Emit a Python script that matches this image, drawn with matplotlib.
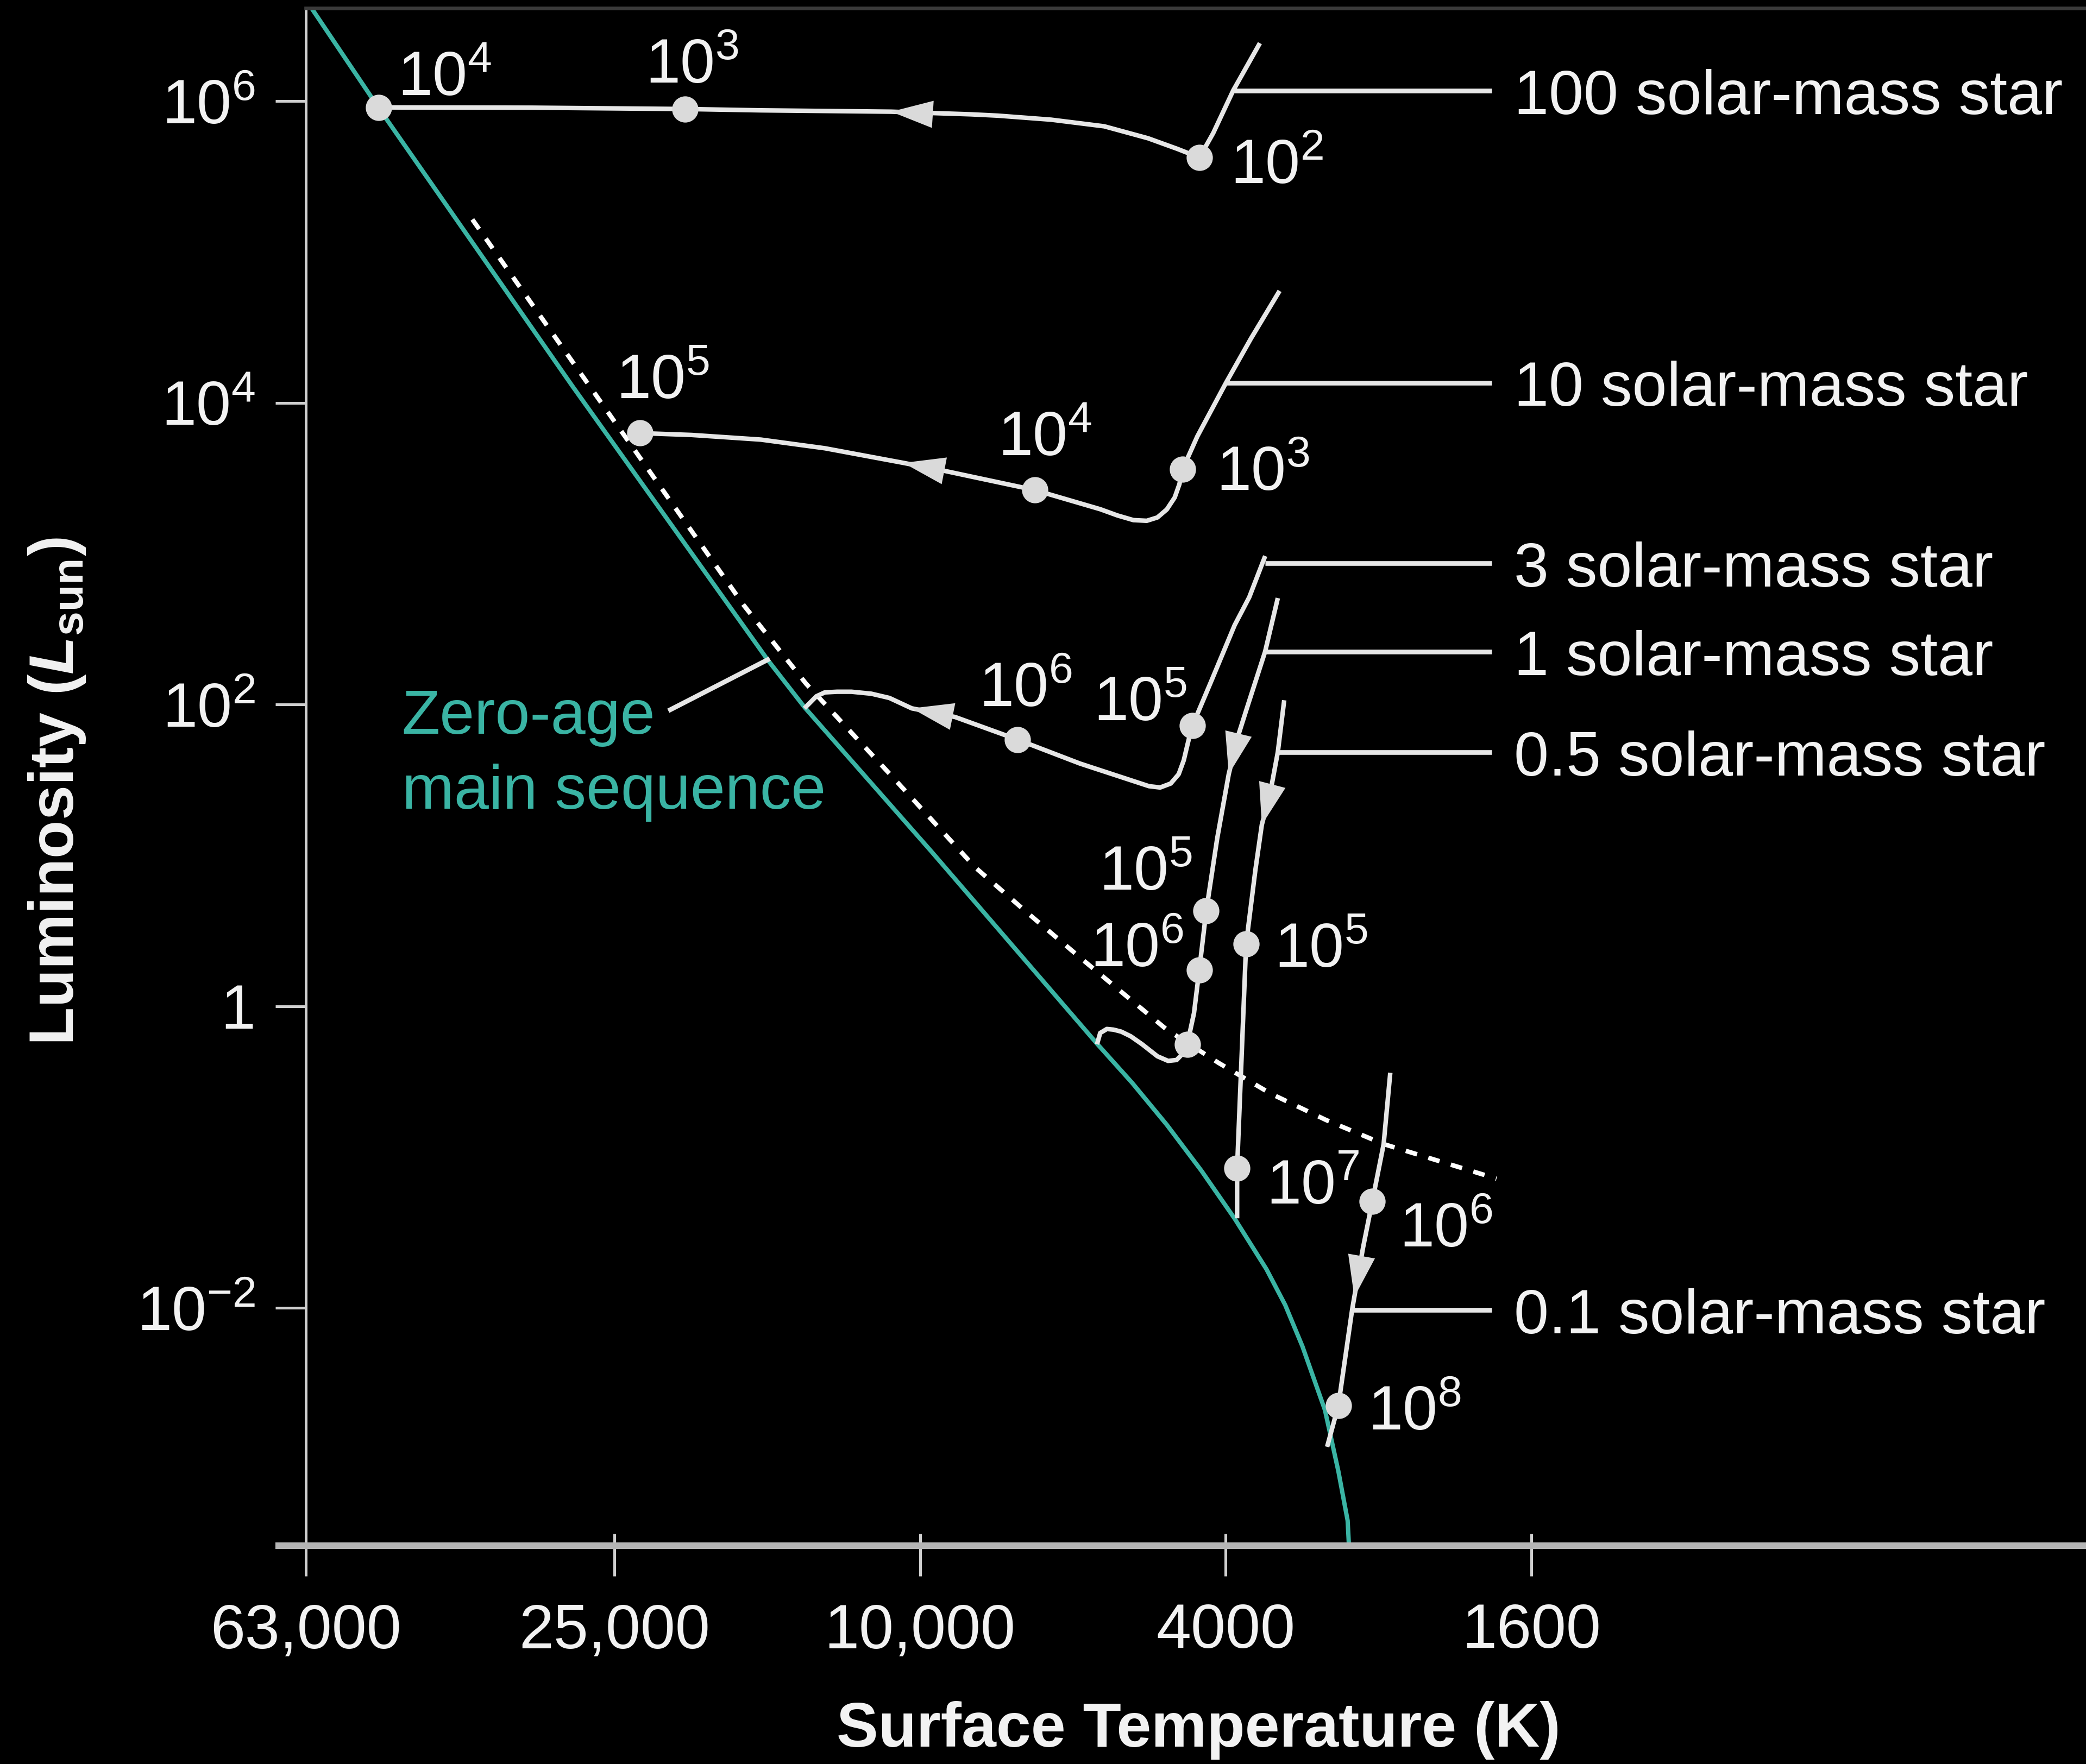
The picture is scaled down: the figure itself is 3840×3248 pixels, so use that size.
import matplotlib
matplotlib.use("Agg")
import matplotlib.pyplot as plt
from matplotlib.ticker import NullLocator, NullFormatter

plt.rcParams['font.family'] = ['Liberation Sans', 'DejaVu Sans']
plt.rcParams['mathtext.fontset'] = 'custom'
plt.rcParams['mathtext.rm'] = 'Liberation Sans'
plt.rcParams['mathtext.it'] = 'Liberation Sans:italic'
plt.rcParams['mathtext.bf'] = 'Liberation Sans:bold'
if 'mathtext.bfit' in plt.rcParams:
    plt.rcParams['mathtext.bfit'] = 'Liberation Sans:bold:italic'

# ---- axes ----
temp_ticks = [63000, 25000, 10000, 4000, 1600]
temp_labels = ['63,000', '25,000', '10,000', '4000', '1600']
lum_ticks = [1e6, 1e4, 1e2, 1, 1e-2]
lum_labels = [r'$\mathregular{10^{6}}$', r'$\mathregular{10^{4}}$',
              r'$\mathregular{10^{2}}$', '1', r'$\mathregular{10^{-2}}$']

# ---- zero-age main sequence (K, L_sun) ----
zams_T = [63000, 50690, 28370, 15790, 14120, 9667, 5873, 5294, 4772, 4302, 3894,
          3540, 3346, 3178, 2970, 2853, 2775, 2764]
zams_L = [4.68e6, 9.035e5, 1.297e4, 197.9, 95.2, 10.63, 0.5595, 0.3106, 0.1638,
          0.08128, 0.03914, 0.01809, 0.01046, 0.005572, 0.002102, 8.264e-4,
          3.898e-4, 2.651e-4]

# ---- dashed line ----
dash_T = [38260, 16960, 14070, 10900, 8475, 7253, 6183, 4772, 4085, 3497, 2958, 2491, 1776]
dash_L = [1.641e5, 454.8, 137.3, 33.81, 8.328, 4.176, 2.094, 0.6995, 0.4209, 0.2639,
          0.1758, 0.1220, 0.07196]

# ---- pre-main-sequence tracks, start -> main sequence ----
m100_T = [3610, 3910, 4151, 4327, 4622, 5047, 5757, 6752, 7919, 8578, 10900, 16110,
          20220, 31980, 50690]
m100_L = [2.419e6, 1.176e6, 6.144e5, 4.219e5, 4.815e5, 5.663e5, 6.80e5, 7.524e5,
          8.0e5, 8.162e5, 8.50e5, 8.676e5, 8.854e5, 9.035e5, 9.073e5]
m100_dot_T = [4327, 20220, 50690]
m100_dot_L = [4.219e5, 8.854e5, 9.073e5]
m100_ages = [2, 3, 4]
m100_arrow = [(9630, 8.162e5), (10900, 8.50e5)]

m10_T = [3403, 3712, 3995, 4354, 4551, 4595, 4660, 4772, 4908, 5067, 5274, 5533,
         5826, 7090, 9290, 10510, 13300, 16110, 19820, 23150]
m10_L = [5.515e4, 2.640e4, 1.359e4, 5995, 3624, 2886, 2356, 1962, 1737, 1651, 1668,
         1791, 1970, 2639, 3536, 3995, 4994, 5698, 6117, 6293]
m10_dot_T = [4551, 7090, 23150]
m10_dot_L = [3624, 2639, 6293]
m10_ages = [3, 4, 5]
m10_arrow = [(9290, 3536), (10510, 3995)]

m3_T = [3553, 3727, 3894, 4183, 4419, 4451, 4486, 4535, 4605, 4716, 4868, 5033,
        6190, 7465, 9000, 10250, 10960, 11570, 12280, 12820, 13300, 13640, 14140]
m3_L = [964.0, 513.8, 335.4, 140.1, 72.4, 63.45, 53.94, 42.7, 34.5, 29.94, 28.17,
        28.74, 40.6, 58.5, 82.6, 94.3, 110.5, 117.9, 121.5, 121.5, 120.3, 113.4, 94.3]
m3_dot_T = [4419, 7465]
m3_dot_L = [72.4, 58.5]
m3_ages = [5, 6]
m3_arrow = [(9000, 82.6), (10250, 94.3)]

m1_T = [3421, 3554, 3742, 3860, 3963, 4102, 4240, 4329, 4398, 4488, 4550, 4633,
        4753, 4908, 5138, 5316, 5470, 5598, 5711, 5826, 5882]
m1_L = [507.6, 223.9, 99.2, 60.3, 34.57, 13.02, 4.279, 1.744, 0.9016, 0.5596,
        0.4853, 0.4402, 0.4341, 0.4659, 0.5596, 0.6318, 0.6785, 0.6995, 0.7066,
        0.6649, 0.5596]
m1_dot_T = [4240, 4329, 4488]
m1_dot_L = [4.279, 1.744, 0.5596]
m1_ages = [5, 6, None]
m1_arrow = [(3860, 60.3), (3963, 34.57)]

m05_T = [3356, 3421, 3497, 3589, 3659, 3762, 3813, 3865, 3865]
m05_L = [106.7, 48.34, 26.5, 15.95, 8.0, 2.586, 0.4669, 0.08431, 0.0393]
m05_dot_T = [3762, 3865]
m05_dot_L = [2.586, 0.08431]
m05_ages = [5, 7]
m05_arrow = [(3497, 26.5), (3589, 15.95)]

m01_T = [2442, 2491, 2577, 2649, 2720, 2738, 2853, 2951]
m01_L = [0.3623, 0.1220, 0.05096, 0.02529, 0.01181, 0.00972, 0.002262, 0.001201]
m01_dot_T = [2577, 2853]
m01_dot_L = [0.05096, 0.002262]
m01_ages = [6, 8]
m01_arrow = [(2649, 0.02529), (2720, 0.01181)]

# ---- mass labels and their leader lines ----
mass_names = ['100 solar-mass star', '10 solar-mass star', '3 solar-mass star',
              '1 solar-mass star', '0.5 solar-mass star', '0.1 solar-mass star']
leader_T = [3907, 3995, 3554, 3554, 3421, 2738]
leader_L = [1.169e6, 1.359e4, 862.2, 223.9, 48.34, 0.00972]
leader_end_T = 1801

stars = [
    (m100_T, m100_L, m100_dot_T, m100_dot_L, m100_ages, m100_arrow),
    (m10_T, m10_L, m10_dot_T, m10_dot_L, m10_ages, m10_arrow),
    (m3_T, m3_L, m3_dot_T, m3_dot_L, m3_ages, m3_arrow),
    (m1_T, m1_L, m1_dot_T, m1_dot_L, m1_ages, m1_arrow),
    (m05_T, m05_L, m05_dot_T, m05_dot_L, m05_ages, m05_arrow),
    (m01_T, m01_L, m01_dot_T, m01_dot_L, m01_ages, m01_arrow),
]

# age label offsets in points (layout only)
age_offsets = [
    [(17.2, -14.3), (-22.0, 14.3), (10.7, 6.6)],
    [(18.6, -11.5), (-20.4, 19.1), (-13.2, 19.1)],
    [(-54.6, 2.9), (-21.2, 18.4)],
    [(-59.3, 11.6), (-60.2, 1.8), None],
    [(15.6, -12.8), (16.1, -19.7)],
    [(14.9, -25.3), (16.2, -13.7)],
]

TEXT = '#f2f2f2'
TRACK = '#e6e6e6'
DOT = '#dadada'
TEAL = '#3ab4a4'
FS = 34.5

fig = plt.figure(figsize=(16, 13.534), dpi=240, facecolor='black')
ax = fig.add_axes([230 / 1568, 1 - 1162 / 1326, 1 - 230 / 1568, 1156 / 1326])
ax.set_facecolor('black')
ax.set_xscale('log')
ax.set_yscale('log')
ax.set_xlim(63000, 303.4)
ax.set_ylim(2.651e-4, 4.143e6)

ax.plot(zams_T, zams_L, color=TEAL, lw=2.4, zorder=2, solid_joinstyle='round')
ax.plot(dash_T, dash_L, color='white', lw=2.5, ls=(0, (2.6, 2.6)), zorder=2)

for (tT, tL, dT, dL, ages, arrow), offs in zip(stars, age_offsets):
    ax.plot(tT, tL, color=TRACK, lw=2.5, solid_joinstyle='round',
            solid_capstyle='butt', zorder=3)
    ax.plot(dT, dL, 'o', ms=14.5, color=DOT, mec='none', zorder=5)
    ax.annotate('', xy=arrow[1], xytext=arrow[0],
                arrowprops=dict(arrowstyle='-|>,head_length=2.3,head_width=0.75',
                                mutation_scale=10, fc=DOT, ec='none', lw=0,
                                shrinkA=0, shrinkB=0), zorder=5)
    for T, L, a, off in zip(dT, dL, ages, offs):
        if a is None:
            continue
        ax.annotate(rf'$\mathregular{{10^{{{a}}}}}$', xy=(T, L), xytext=off,
                    textcoords='offset points', ha='left', va='baseline',
                    fontsize=FS, color=TEXT, zorder=6)

for name, T0, L in zip(mass_names, leader_T, leader_L):
    ax.plot([T0, leader_end_T], [L, L], color=TRACK, lw=2.6, zorder=3,
            solid_capstyle='butt')
    ax.annotate(name, xy=(leader_end_T, L), xytext=(12.2, -12.8),
                textcoords='offset points', ha='left', va='baseline',
                fontsize=FS, color=TEXT, annotation_clip=False)

# zero-age main sequence label (anchored on the baseline of its second line)
ax.plot([21130, 15790], [92.4, 197.9], color=TRACK, lw=2.6, zorder=3)
ax.text(47270, 20.35, 'Zero-age\nmain sequence', color=TEAL, fontsize=FS,
        ha='left', va='baseline', linespacing=1.38)

# spines and ticks
ax.spines['right'].set_visible(False)
ax.spines['top'].set_color('#3a3a3a')
ax.spines['top'].set_linewidth(2)
ax.spines['left'].set_color('#cfcfcf')
ax.spines['left'].set_linewidth(1.5)
ax.spines['bottom'].set_color('#b5b5b5')
ax.spines['bottom'].set_linewidth(3.6)
ax.plot([-23 / 1338, 0], [0, 0], transform=ax.transAxes, clip_on=False,
        color='#b5b5b5', lw=3.6, solid_capstyle='butt')

ax.set_xticks(temp_ticks, temp_labels)
ax.set_xticks(temp_ticks, minor=True)
ax.xaxis.remove_overlapping_locs = False
ax.xaxis.set_minor_formatter(NullFormatter())
ax.tick_params(axis='x', which='major', direction='out', length=16.9, width=1.5,
               color='#cfcfcf', pad=14.6, labelsize=FS, labelcolor=TEXT)
ax.tick_params(axis='x', which='minor', direction='in', length=6.6, width=1.5,
               color='#cfcfcf')

ax.set_yticks(lum_ticks, lum_labels)
ax.yaxis.set_minor_locator(NullLocator())
ax.tick_params(axis='y', direction='out', length=16.9, width=1.5,
               color='#cfcfcf', pad=11, labelsize=FS, labelcolor=TEXT)

fig.text(901 / 1568, 1 - 1313 / 1326, 'Surface Temperature (K)', ha='center',
         va='baseline', fontsize=FS, fontweight='bold', color=TEXT)
fig.text(43 / 1568, 1 - 595 / 1326, r'Luminosity ($\mathbfit{L}_{\mathbf{sun}}$)',
         rotation=90, ha='center', va='center', fontsize=FS, fontweight='bold',
         color=TEXT)

fig.savefig('out.png', dpi=240, facecolor='black')
